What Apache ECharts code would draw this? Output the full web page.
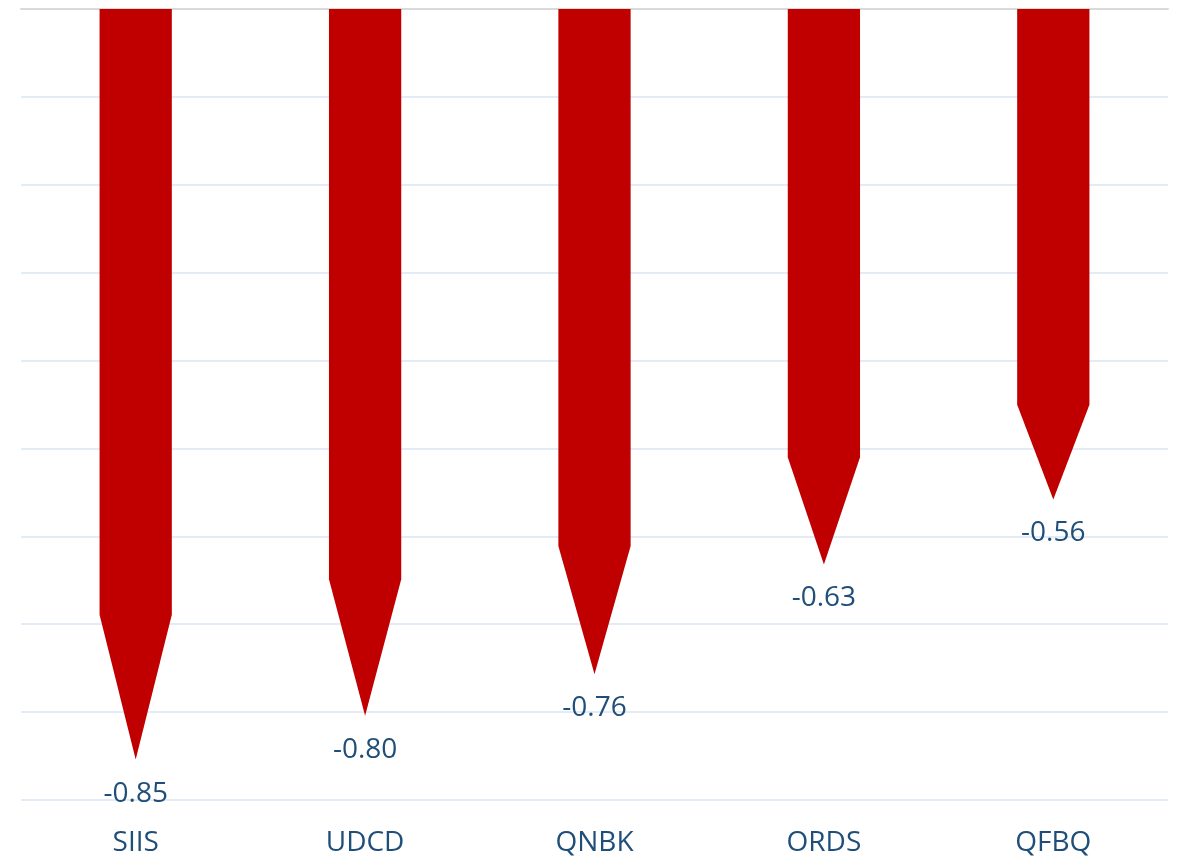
<!DOCTYPE html>
<html>
<head>
<meta charset="utf-8">
<script src="https://cdn.jsdelivr.net/npm/echarts@6/dist/echarts.min.js"></script>
<style>html,body{margin:0;padding:0;background:#fff;}#c{width:1183px;height:858px;}</style>
</head>
<body>
<div id="c"></div>
<script>
var categories = ['SIIS', 'UDCD', 'QNBK', 'ORDS', 'QFBQ'];
var values = [-0.854, -0.804, -0.757, -0.632, -0.558];
var yMin = -0.9, yMax = 0, yStep = 0.1;

var chart = echarts.init(document.getElementById('c'));
var textColor = '#1F4E79';
var font = '"Open Sans", "Noto Sans", sans-serif';

chart.setOption({
  animation: false,
  grid: { left: 21, right: 15, top: 9, bottom: 58 },
  xAxis: [{
    type: 'category',
    data: categories,
    position: 'bottom',
    axisLine: { show: false, onZero: false },
    axisTick: { show: false },
    axisLabel: { color: textColor, fontSize: 28, fontFamily: font, margin: 29 }
  }, {
    type: 'category',
    data: categories,
    position: 'top',
    axisLine: { show: true, onZero: false, lineStyle: { color: '#D9D9D9', width: 2 } },
    axisTick: { show: false },
    axisLabel: { show: false }
  }],
  yAxis: {
    type: 'value',
    min: yMin, max: yMax, interval: yStep,
    axisLine: { show: false },
    axisTick: { show: false },
    axisLabel: { show: false },
    splitLine: { lineStyle: { color: '#DAE5F3', width: 1.5 } }
  },
  series: [{
    type: 'custom',
    data: values.map(function (v, i) { return [i, v]; }),
    renderItem: function (params, api) {
      var idx = api.value(0), v = api.value(1);
      var top = api.coord([idx, 0]);
      var tip = api.coord([idx, v]);
      var w = api.size([1, 0])[0] * 0.315;
      var x = top[0];
      var bodyEnd = top[1] + 0.807 * (tip[1] - top[1]);
      return {
        type: 'group',
        children: [{
          type: 'polygon',
          shape: { points: [[x - w / 2, top[1]], [x + w / 2, top[1]], [x + w / 2, bodyEnd], [x, tip[1]], [x - w / 2, bodyEnd]] },
          style: { fill: '#C00000' }
        }, {
          type: 'text',
          style: {
            x: x, y: tip[1] + 20,
            text: v.toFixed(2),
            fill: textColor,
            font: '28px ' + font,
            textAlign: 'center',
            textVerticalAlign: 'top'
          }
        }]
      };
    }
  }]
});
</script>
</body>
</html>
